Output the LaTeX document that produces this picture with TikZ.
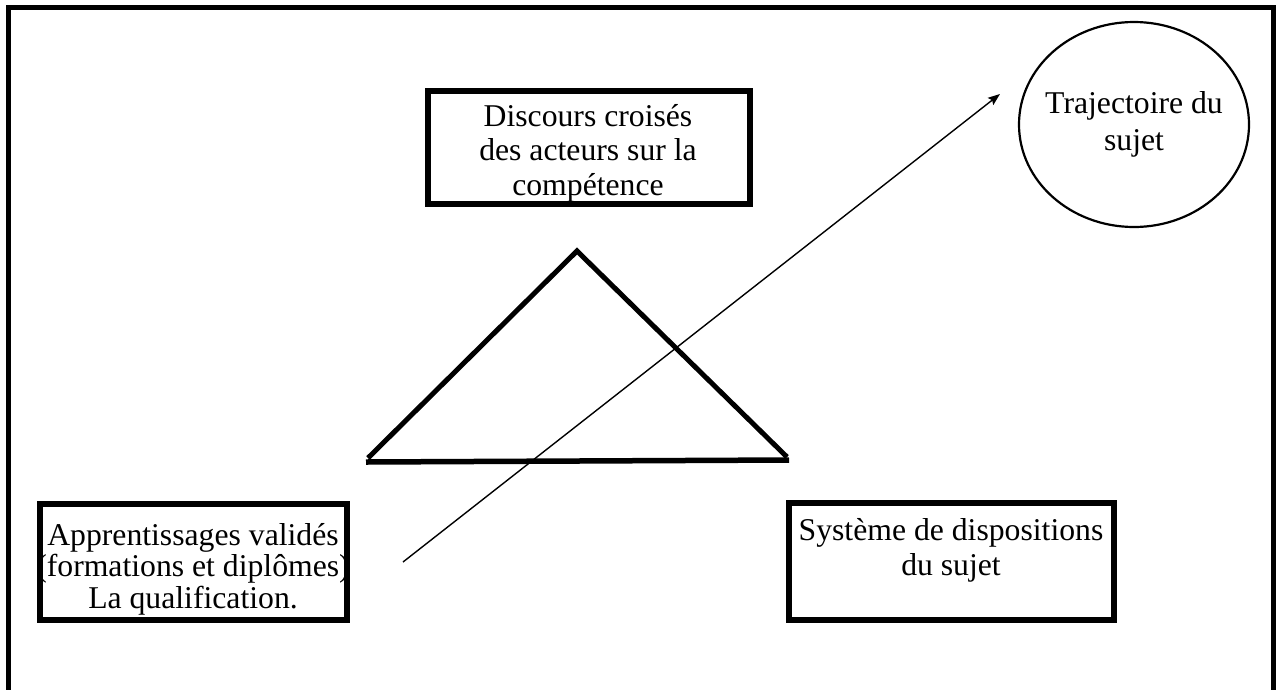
\documentclass[tikz,border=0pt]{standalone}
\usepackage{fontspec}
\setmainfont{Liberation Serif}
\usetikzlibrary{shapes.geometric,arrows.meta}
% fixed-height strut so that each block's top edge sits a known distance above its first baseline
\newcommand\firstline{\rule{0pt}{25pt}}

\begin{document}
\begin{tikzpicture}[x=1pt,y=-1pt,
  framebox/.style={draw, rectangle, line width=6pt, inner sep=0pt},
  txt/.style={align=center, inner sep=0pt, anchor=north,
              font=\fontsize{31.7}{#1}\selectfont},
  thickline/.style={line width=5pt, line join=miter}]

\useasboundingbox (0,0) rectangle (1277,689);

% outer frame (open at the bottom)
\draw[line width=5pt] (8.5,700) -- (8.5,7.5) -- (1273,7.5) -- (1273,700);

% boxes
\node[framebox, minimum width=322pt, minimum height=113pt] (discours) at (589,147.5) {};
\node[txt=34.5] (discourstext) at (588,101) {\firstline Discours croisés\\des acteurs sur la\\compétence};

\node[framebox, line width=5.5pt, minimum width=307pt, minimum height=116pt] (appr) at (193.5,562) {};
\node[txt=31.7] (apprtext) at (193,520) {\firstline Apprentissages validés\\(formations et diplômes)\\La qualification.};

\node[framebox, minimum width=325pt, minimum height=117pt] (systeme) at (951,561.5) {};
\node[txt=35] (systemetext) at (951,515) {\firstline Système de dispositions\\du sujet};

% trajectory ellipse
\node[draw, ellipse, line width=2.2pt, minimum width=230pt, minimum height=205pt, inner sep=0pt] (traj) at (1134,124.5) {};
\node[txt=37] (trajtext) at (1134,88) {\firstline Trajectoire du\\sujet};

% central triangle
\coordinate (triL) at (368,458);
\coordinate (triA) at (577,251);
\coordinate (triR) at (787,457);
\coordinate (baseL) at (366,462);
\coordinate (baseR) at (789,460);
\draw[thickline] (triL) -- (triA) -- (triR);
\draw[line width=5.5pt] (baseL) -- (baseR);

% rising arrow
\coordinate (arrowfrom) at (403,562);
\coordinate (arrowto) at (1000,94);
\draw[line width=1.4pt, -{Stealth[length=12pt,width=9pt,inset=2pt]}] (arrowfrom) -- (arrowto);

\end{tikzpicture}
\end{document}
